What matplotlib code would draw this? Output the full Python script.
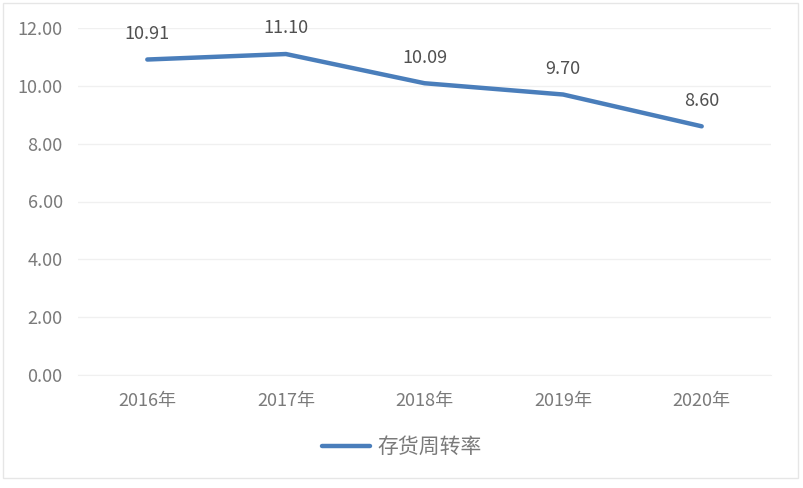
import matplotlib.pyplot as plt
from matplotlib.patches import Rectangle

plt.rcParams['font.family'] = ['Noto Sans CJK SC', 'DejaVu Sans']

years = ['2016年', '2017年', '2018年', '2019年', '2020年']
turnover = [10.91, 11.10, 10.09, 9.70, 8.60]
yticks = [0, 2, 4, 6, 8, 10, 12]

line_color = '#4a7ebb'
label_color = '#505050'
tick_color = '#7a7a7a'
grid_color = '#f0f0f0'

fig = plt.figure(figsize=(8.04, 4.88), dpi=100)
ax = fig.add_axes([78 / 804, 113 / 488, 693 / 804, 347 / 488])

x = range(len(years))
line, = ax.plot(x, turnover, color=line_color, linewidth=3.2,
                solid_capstyle='round', solid_joinstyle='round', label='存货周转率')

for xi, v in zip(x, turnover):
    ax.annotate(f'{v:.2f}', (xi, v), xytext=(0, 12), textcoords='offset points',
                ha='center', va='bottom', fontsize=13, color=label_color)

ax.set_xlim(-0.5, len(years) - 0.5)
ax.set_ylim(0, 12)
ax.set_yticks(yticks)
ax.set_yticklabels([f'{t:.2f}' for t in yticks])
ax.set_xticks(list(x))
ax.set_xticklabels(years)
ax.tick_params(axis='both', length=0, labelsize=13, colors=tick_color)
ax.tick_params(axis='y', pad=11)
ax.tick_params(axis='x', pad=12)
ax.grid(axis='y', color=grid_color, linewidth=1)
ax.set_axisbelow(True)
for s in ['top', 'right', 'left']:
    ax.spines[s].set_visible(False)
ax.spines['bottom'].set_color(grid_color)

fig.legend(handles=[line], loc='center', bbox_to_anchor=(402 / 804, 1 - 447 / 488),
           frameon=False, fontsize=15, labelcolor=tick_color,
           handlelength=2.3, handletextpad=0.35)

fig.patches.append(Rectangle((3 / 804, 10 / 488), 795 / 804, 475 / 488,
                             transform=fig.transFigure, fill=False,
                             edgecolor='#e6e6e6', linewidth=1))

fig.savefig('out.png', dpi=100)
